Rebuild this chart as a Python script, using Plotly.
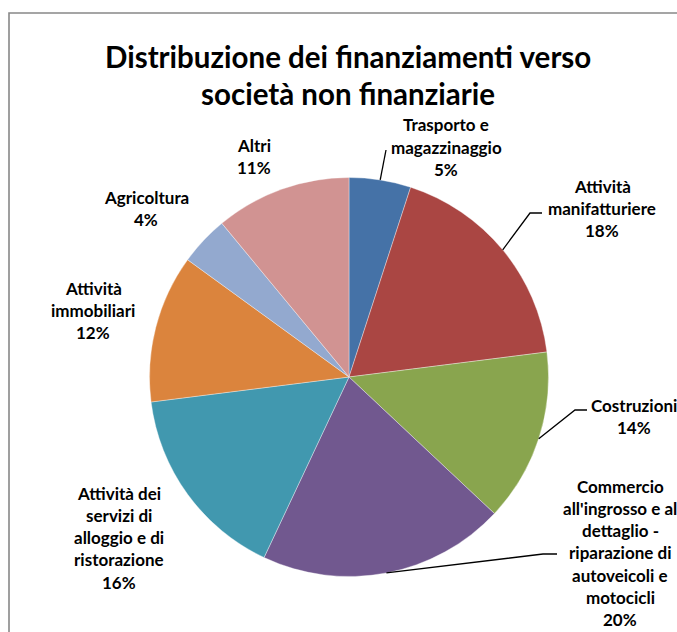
import math
import plotly.graph_objects as go

W, H = 677, 632

# ---- data ----
categories = [
    "Trasporto e magazzinaggio",
    "Attività manifatturiere",
    "Costruzioni",
    "Commercio all'ingrosso e al dettaglio - riparazione di autoveicoli e motocicli",
    "Attività dei servizi di alloggio e di ristorazione",
    "Attività immobiliari",
    "Agricoltura",
    "Altri",
]
values = [5, 18, 14, 20, 16, 12, 4, 11]
label_lines = [
    ["Trasporto e", "magazzinaggio"],
    ["Attività", "manifatturiere"],
    ["Costruzioni"],
    ["Commercio", "all'ingrosso e al", "dettaglio -", "riparazione di", "autoveicoli e", "motocicli"],
    ["Attività dei", "servizi di", "alloggio e di", "ristorazione"],
    ["Attività", "immobiliari"],
    ["Agricoltura"],
    ["Altri"],
]
colors = ["#4572A7", "#AA4643", "#89A54E", "#71588F", "#4198AF", "#DB843D", "#93A9CF", "#D19392"]
title_lines = ["Distribuzione dei finanziamenti verso", "società non finanziarie"]

# ---- layout constants (pixels) ----
CX, CY, R = 349, 377, 199.5
label_pos = [(446, 125), (602, 186), (634, 405), (620, 486), (119, 493), (93, 288), (146, 197), (254, 145)]
leader_pts = {0: [(386, 150)], 1: [(530, 213), (542, 213)], 2: [(575, 410), (587, 410)], 3: [(543, 554), (557, 554)]}
LINE_H = 22.3
FONT = "Lato, 'Open Sans', sans-serif"


def px(x):
    return x / W


def py(y):
    return 1 - y / H


fig = go.Figure(go.Pie(
    labels=categories, values=values, sort=False, direction="clockwise", rotation=0,
    marker=dict(colors=colors, line=dict(color="rgba(255,255,255,0.6)", width=0.6)),
    textinfo="none", hoverinfo="label+percent", showlegend=False,
    domain=dict(x=[px(CX - R), px(CX + R)], y=[py(CY + R), py(CY - R)]),
))

annotations = []
for i, line in enumerate(title_lines):
    annotations.append(dict(x=px(348), y=py(56 + i * 37), xref="paper", yref="paper", text=f"<b>{line}</b>",
                            showarrow=False, xanchor="center", yanchor="middle",
                            font=dict(family=FONT, size=29.5, color="#000000")))

total = sum(values)
for i, lines in enumerate(label_lines):
    pct = f"{round(values[i] / total * 100)}%"
    lx, ly = label_pos[i]
    for j, t in enumerate(lines + [pct]):
        annotations.append(dict(x=px(lx), y=py(ly + j * LINE_H), xref="paper", yref="paper", text=f"<b>{t}</b>",
                                showarrow=False, xanchor="center", yanchor="middle",
                                font=dict(family=FONT, size=17, color="#000000")))

shapes = [dict(type="rect", xref="paper", yref="paper", x0=px(9), x1=px(W + 20), y0=py(H + 20), y1=py(13),
               line=dict(color="#888888", width=1.6), fillcolor="rgba(0,0,0,0)")]

cum = 0
for i, v in enumerate(values):
    mid = (cum + v / 2) / total * 2 * math.pi
    cum += v
    if i in leader_pts:
        sx, sy = CX + R * math.sin(mid), CY - R * math.cos(mid)
        pts = [(sx, sy)] + leader_pts[i]
        path = "M " + " L ".join(f"{px(x)},{py(y)}" for x, y in pts)
        shapes.append(dict(type="path", xref="paper", yref="paper", path=path,
                           line=dict(color="#000000", width=1.3)))

fig.update_layout(
    width=W, height=H, margin=dict(l=0, r=0, t=0, b=0),
    paper_bgcolor="white", plot_bgcolor="white",
    annotations=annotations, shapes=shapes,
)

fig.write_html("out.html")
